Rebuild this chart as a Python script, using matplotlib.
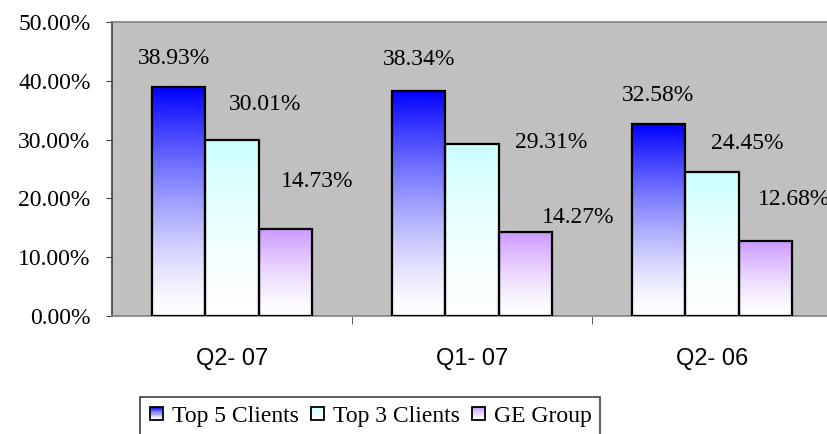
import numpy as np
import matplotlib
matplotlib.use("Agg")
import matplotlib.pyplot as plt
from matplotlib.patches import Rectangle
from matplotlib.legend_handler import HandlerBase
from matplotlib.colors import to_rgb

# Datos del grafico
categorias = ["Q2- 07", "Q1- 07", "Q2- 06"]
series = ["Top 5 Clients", "Top 3 Clients", "GE Group"]
top5 = [38.93, 38.34, 32.58]
top3 = [30.01, 29.31, 24.45]
ge_group = [14.73, 14.27, 12.68]
valores = [top5, top3, ge_group]

# Colores (arriba del degradado -> blanco abajo)
colores = ["#0000FF", "#CCFFFF", "#CC99FF"]

# Desplazamiento de las etiquetas en pixeles (dx, dy) respecto al tope de cada barra
desp_etiquetas = [
    [(-5, 29), (0, 31), (-1, 29)],
    [(33, 35), (79, 1), (35, 29)],
    [(32, 48), (53, 15), (29, 42)],
]


def degradado(color, n=256):
    c = np.array(to_rgb(color))
    t = np.linspace(0, 1, n)[:, None] ** 1.4
    return (1 - t) * np.ones(3) + t * c


fig = plt.figure(figsize=(8.28, 4.34), dpi=100)
ax = fig.add_axes([112 / 828, 118 / 434, 720 / 828, 294 / 434])
ax.set_facecolor("#C0C0C0")

ancho = 0.222
x = np.arange(len(categorias))

for i, vals in enumerate(valores):
    grad = degradado(colores[i])[:, None, :]
    for j, v in enumerate(vals):
        x0 = x[j] - 1.5 * ancho + i * ancho
        ax.imshow(grad, extent=(x0, x0 + ancho, 0, v), origin="lower",
                  aspect="auto", zorder=2, interpolation="bilinear")
        ax.add_patch(Rectangle((x0, 0), ancho, v, facecolor="none",
                               edgecolor="black", linewidth=1.6, zorder=3))
        dx, dy = desp_etiquetas[i][j]
        ax.annotate(f"{v:.2f}%", (x0 + ancho / 2, v), xytext=(dx, dy),
                    textcoords="offset pixels", ha="center", va="center",
                    fontsize=17, family="Liberation Serif", zorder=4,
                    annotation_clip=False)

ax.set_xlim(-0.5, 2.5)
ax.set_ylim(0, 50)

ax.set_yticks(np.arange(0, 51, 10))
ax.set_yticklabels([f"{t:.2f}%" for t in np.arange(0, 51, 10)],
                   family="Liberation Serif", fontsize=17)
ax.tick_params(axis="y", length=4.5, pad=11, color="#404040")

ax.set_xticks(x)
ax.set_xticklabels(categorias, family="Liberation Sans", fontsize=17)
ax.set_xticks([0.5, 1.5], minor=True)
ax.tick_params(axis="x", which="major", length=0, pad=23)
ax.tick_params(axis="x", which="minor", length=6, color="#404040")

ax.spines["left"].set_color("#404040")
ax.spines["bottom"].set_color("#808080")
ax.spines["top"].set_color("#808080")
ax.spines["right"].set_visible(False)
for s in ax.spines.values():
    s.set_linewidth(1.2)


class HandlerDegradado(HandlerBase):
    def create_artists(self, legend, orig_handle, xdescent, ydescent,
                       width, height, fontsize, trans):
        lado = height * 0.8
        x0 = -xdescent + (width - lado) / 2
        y0 = -ydescent + (height - lado) / 2
        artistas = []
        n = 12
        grad = degradado(orig_handle.get_label(), n)
        for k in range(n):
            r = Rectangle((x0, y0 + k * lado / n), lado, lado / n + 0.3,
                          facecolor=grad[k], edgecolor="none", transform=trans)
            artistas.append(r)
        artistas.append(Rectangle((x0, y0), lado, lado, facecolor="none",
                                  edgecolor="black", linewidth=1.3,
                                  transform=trans))
        return artistas


handles = [Rectangle((0, 0), 1, 1, label=c) for c in colores]
leg = fig.legend(handles, series, loc="upper center",
                 bbox_to_anchor=(370 / 828, 1 - 397 / 434), ncol=3,
                 handler_map={Rectangle: HandlerDegradado()},
                 prop={"family": "Liberation Serif", "size": 17},
                 handlelength=0.7, handletextpad=0.3, columnspacing=0.45,
                 borderpad=0.35, borderaxespad=0, fancybox=False,
                 framealpha=1, edgecolor="#404040")
leg.get_frame().set_linewidth(1.2)

fig.savefig("out.png", dpi=100)
